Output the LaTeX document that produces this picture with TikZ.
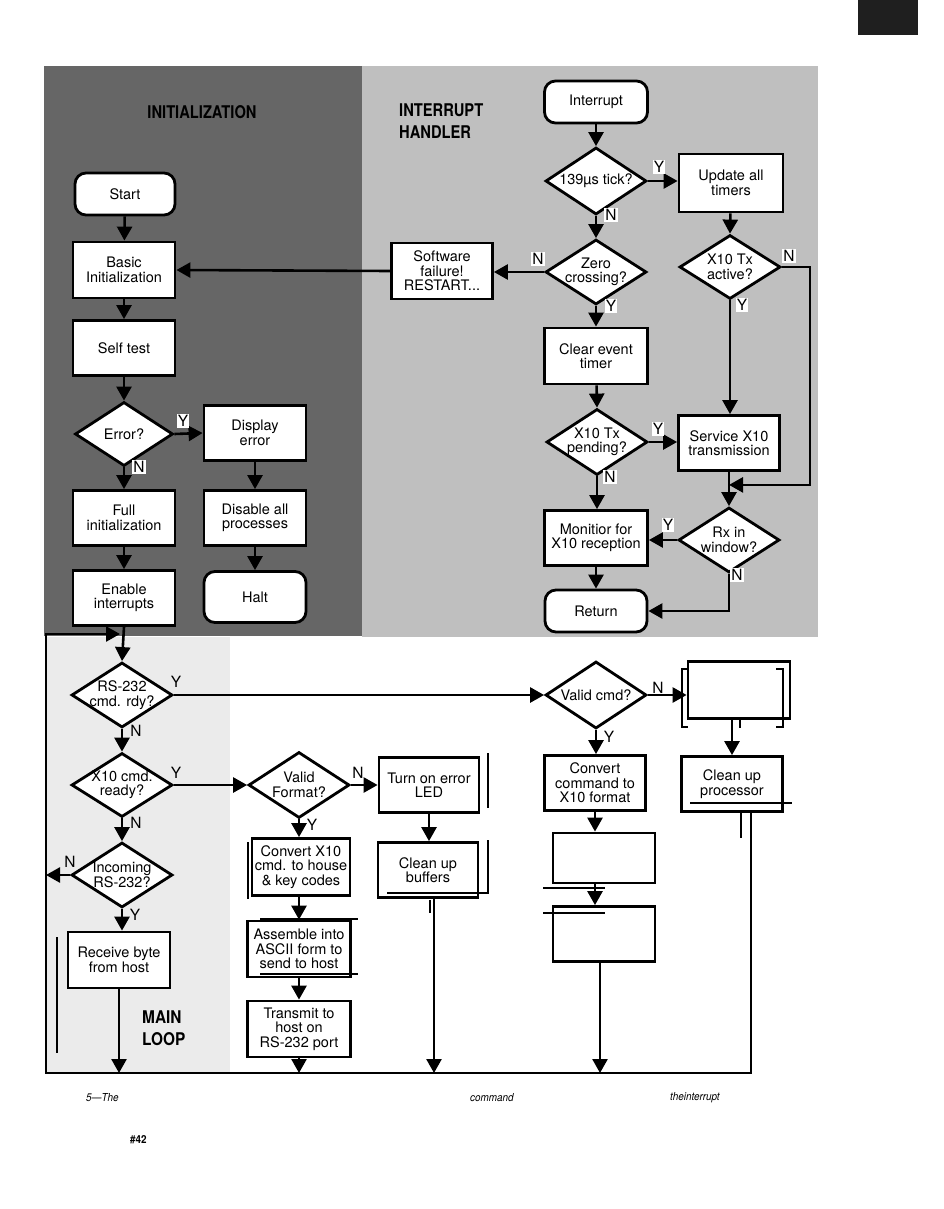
\documentclass[tikz,border=0pt]{standalone}
\usepackage{fontspec}
\setmainfont{TeX Gyre Heros}
\usepackage{graphicx}
\usetikzlibrary{shapes.geometric,arrows.meta,calc}
\begin{document}
\begin{tikzpicture}[x=1pt,y=-1pt,
  every node/.style={font=\fontsize{14.5}{14.5}\selectfont},
  box/.style={draw,line width=2.8pt,fill=white,minimum width=102pt,minimum height=56pt,inner sep=0pt,align=center},
  term/.style={box,rounded corners=11pt,minimum height=42pt},
  dia/.style={draw,line width=2.8pt,fill=white,diamond,shape aspect=1.55,minimum width=101pt,minimum height=65pt,inner sep=-5pt,align=center},
  lab/.style={fill=white,inner sep=1pt,font=\fontsize{15.5}{15}\selectfont},
  labn/.style={inner sep=1pt,font=\fontsize{15.5}{15}\selectfont},
  flow/.style={line width=2.6pt},
  arr/.style={flow,-{Triangle[width=15pt,length=14pt]}},
  stray/.style={line width=2pt},
  thinline/.style={line width=1.2pt},
  head/.style={font=\fontsize{17.5}{22}\bfseries\selectfont,align=left,inner sep=0pt},
  captext/.style={font=\fontsize{11}{12}\itshape\selectfont,inner sep=0pt},
]
\useasboundingbox (0,0) rectangle (944,1209);
\fill[white] (0,0) rectangle (944,1209);
% backgrounds
\fill[black!60] (44,66) rectangle (362,636);
\fill[black!25] (362,66) rectangle (818,637);
\fill[black!8] (46,637) rectangle (230,1072);
\fill[black!88] (858,0) rectangle (918,35);

% headings
\node[head] (hinit) at (202,112) {\scalebox{0.84}[1]{INITIALIZATION}};
\node[head,anchor=north west] (hint) at (399,104) {\scalebox{0.84}[1]{INTERRUPT}\\\scalebox{0.84}[1]{HANDLER}};
\node[head,anchor=north west] (hmain) at (142,1011) {\scalebox{0.88}[1]{MAIN}\\\scalebox{0.88}[1]{LOOP}};

% initialization
\node[term,minimum width=100pt] (start) at (125,194) {Start};
\node[box] (basic) at (124,270) {Basic\\Initialization};
\node[box,minimum height=55pt] (self) at (124,348) {Self test};
\node[dia,minimum width=98pt,minimum height=64pt] (err) at (124,434) {Error?};
\node[box,minimum height=55pt] (disp) at (255,433) {Display\\error};
\node[box,minimum height=55pt] (full) at (124,518) {Full\\initialization};
\node[box,minimum height=55pt] (dis) at (255,518) {Disable all\\processes};
\node[box,minimum height=55pt] (enable) at (124,598) {Enable\\interrupts};
\node[term,minimum height=51pt] (halt) at (255,597) {Halt};

% interrupt handler
\node[term,minimum width=103pt] (intr) at (596,102) {Interrupt};
\node[dia,minimum height=67pt] (tick) at (596,181) {139µs tick?};
\node[box,minimum width=104pt,minimum height=58pt] (upd) at (731,183) {Update all\\timers};
\node[dia] (zero) at (596,272) {Zero\\crossing?};
\node[box,minimum width=101pt] (soft) at (442,271) {Software\\failure!\\RESTART...};
\node[dia,minimum height=64pt] (txa) at (730,267) {X10 Tx\\active?};
\node[box,minimum width=103pt] (clr) at (596,356) {Clear event\\timer};
\node[dia,minimum height=66pt] (txp) at (597,442) {X10 Tx\\pending?};
\node[box,minimum width=101pt,minimum height=55pt] (serv) at (729,443) {Service X10\\transmission};
\node[dia] (rx) at (729,540) {Rx in\\window?};
\node[box,minimum width=103pt,minimum height=55pt] (mon) at (596,538) {Monitior for\\X10 reception};
\node[term] (ret) at (596,611) {Return};

% main loop
\node[dia] (rs) at (122,695) {RS-232\\cmd. rdy?};
\node[dia,minimum height=64pt] (x10r) at (122,785) {X10 cmd.\\ready?};
\node[dia] (inc) at (122,875) {Incoming\\RS-232?};
\node[box] (recv) at (119,960) {Receive byte\\from host};
\node[dia,minimum height=66pt] (vf) at (299,785) {Valid\\Format?};
\node[box,minimum width=100pt,minimum height=55pt] (led) at (429,785) {Turn on error\\LED};
\node[box,minimum width=100pt,minimum height=55pt] (cbuf) at (428,870) {Clean up\\buffers};
\node[box,minimum width=98pt,minimum height=57pt] (conv) at (301,867) {Convert X10\\cmd. to house\\\& key codes};
\node[box,minimum width=103pt] (asm) at (299,949) {Assemble into\\ASCII form to\\send to host};
\node[box,minimum width=103pt] (tx) at (299,1029) {Transmit to\\host on\\RS-232 port};
\node[dia,minimum height=67pt] (vc) at (596,695) {Valid cmd?};
\node[box,minimum width=102pt,minimum height=57pt] (b1) at (739,690) {};
\node[box,minimum width=101pt,minimum height=55pt] (ccmd) at (595,783) {Convert\\command to\\X10 format};
\node[box,minimum width=101pt,minimum height=55pt] (cproc) at (732,784) {Clean up\\processor};
\node[box,minimum width=102pt,minimum height=50pt] (b2) at (604,858) {};
\node[box,minimum width=102pt,minimum height=55pt] (b3) at (604,934) {};

% loop frame coordinates
\coordinate (bR) at (751,1073);
\coordinate (bL) at (46,1073);
\coordinate (lt) at (46,634);
\coordinate (cpo) at ($(cproc.south)+(19,0)$);
\coordinate (cbo) at ($(cbuf.south)+(6,0)$);
\coordinate (b3o) at ($(b3.south)+(-4,0)$);

% connectors: initialization
\draw[arr] (start) -- (basic);
\draw[arr] (basic) -- (self);
\draw[arr] (self) -- (err.north);
\draw[arr] (err.east) -- (disp.west);
\draw[arr] (err.south) -- (full.north);
\draw[arr] (disp) -- (dis);
\draw[arr] (dis) -- (halt);
\draw[arr] (full) -- (enable);
\draw[arr] (enable.south) -- (rs.north);

% connectors: interrupt
\draw[arr] (intr) -- (tick.north);
\draw[arr] (tick.east) -- (upd.west |- tick.east);
\draw[arr] (upd) -- (txa.north);
\draw[arr] (tick.south) -- (zero.north);
\draw[arr] (zero.west) -- (soft.east |- zero.west);
\draw[arr] (soft.west) -- (basic.east);
\draw[arr] (zero.south) -- (clr.north);
\draw[arr] (clr) -- (txp.north);
\draw[arr] (txp.east) -- (serv.west |- txp.east);
\draw[arr] (txp.south) -- (mon.north -| txp.south);
\draw[arr] (txa.south) -- (serv.north -| txa.south);
\draw[arr] (txa.east) -| ($(serv.south east)+(29,13)$) |- ($(serv.south)+(0,13)$);
\draw[arr] (serv.south) -- (rx.north);
\draw[arr] (rx.west) -- (mon.east |- rx.west);
\draw[arr] (mon) -- (ret);
\draw[arr] (rx.south) |- (ret.east);

% connectors: main loop
\draw[arr] (cpo) -- (bR) -- (bL) -- (lt) -- (120,634);
\draw[arr] (rs.east) -- (vc.west);
\draw[arr] (rs.south) -- (x10r.north);
\draw[arr] (x10r.east) -- (vf.west);
\draw[arr] (x10r.south) -- (inc.north);
\draw[arr] (inc.west) -- (inc.west -| bL);
\draw[arr] (inc.south) -- (recv.north -| inc.south);
\draw[arr] (recv.south) -- (recv.south |- bL);
\draw[arr] (vf.east) -- (led.west);
\draw[arr] (led) -- (led.south |- cbuf.north);
\draw[arr] (cbo) -- (cbo |- bL);
\draw[arr] (vf.south) -- (vf.south |- conv.north);
\draw[arr] (conv.south -| asm.north) -- (asm.north);
\draw[arr] (asm) -- (tx);
\draw[arr] (tx.south) -- (tx.south |- bL);
\draw[arr] (vc.east) -- (vc.east -| b1.west);
\draw[arr] (vc.south) -- (ccmd.north -| vc.south);
\draw[arr] (b1.south -| cproc.north) -- (cproc.north);
\draw[arr] (ccmd.south) -- (ccmd.south |- b2.north);
\draw[arr] (ccmd.south |- b2.south) -- (ccmd.south |- b3.north);
\draw[arr] (b3o) -- (b3o |- bL);

% Y / N labels
\node[lab] (l1) at (183,421) {Y};
\node[lab] (l2) at (139,467) {N};
\node[lab] (l3) at (659,167) {Y};
\node[lab] (l4) at (611,215) {N};
\node[lab] (l5) at (538,259) {N};
\node[lab] (l6) at (611,306) {Y};
\node[lab] (l7) at (789,256) {N};
\node[lab] (l8) at (742,305) {Y};
\node[lab] (l9) at (658,429) {Y};
\node[lab] (l10) at (610,477) {N};
\node[lab] (l11) at (668,525) {Y};
\node[lab] (l12) at (737,575) {N};
\node[labn] (l13) at (176,682) {Y};
\node[labn] (l14) at (136,731) {N};
\node[labn] (l15) at (176,773) {Y};
\node[labn] (l16) at (136,823) {N};
\node[labn] (l17) at (70,862) {N};
\node[labn] (l18) at (135,915) {Y};
\node[labn] (l19) at (358,773) {N};
\node[labn] (l20) at (312,825) {Y};
\node[labn] (l21) at (658,688) {N};
\node[labn] (l22) at (609,737) {Y};

% stray scan marks
\draw[stray] (57,937) -- (57,1053);
\draw[stray] (248,842) -- (248,899);
\draw[stray] (260,919) -- (358,919);
\draw[stray] (260,974) -- (358,974);
\draw[stray] (488,753) -- (488,808);
\draw[stray] (488,840) -- (488,893) -- (387,893);
\draw[stray] (430,900) -- (430,913);
\draw[stray] (688,669) -- (682,669) -- (682,727) -- (688,727);
\draw[stray] (776,669) -- (783,669) -- (783,727) -- (776,727);
\draw[stray] (740,719) -- (740,728);
\draw[stray] (690,803) -- (792,803);
\draw[stray] (741,813) -- (741,838);
\draw[thinline] (543,888) -- (605,888);
\draw[thinline] (543,913) -- (605,913);

% caption
\node[captext,anchor=west] (c1) at (86,1098) {\scalebox{0.9}[1]{5---The}};
\node[captext,anchor=west] (c2) at (470,1098) {\scalebox{0.9}[1]{command}};
\node[captext,anchor=west] (c3) at (670,1098) {\scalebox{0.9}[1]{theinterrupt}};
\node[captext,anchor=west,font=\fontsize{11}{12}\bfseries\selectfont] (c4) at (130,1140) {\scalebox{0.9}[1]{\#42}};
\end{tikzpicture}
\end{document}
